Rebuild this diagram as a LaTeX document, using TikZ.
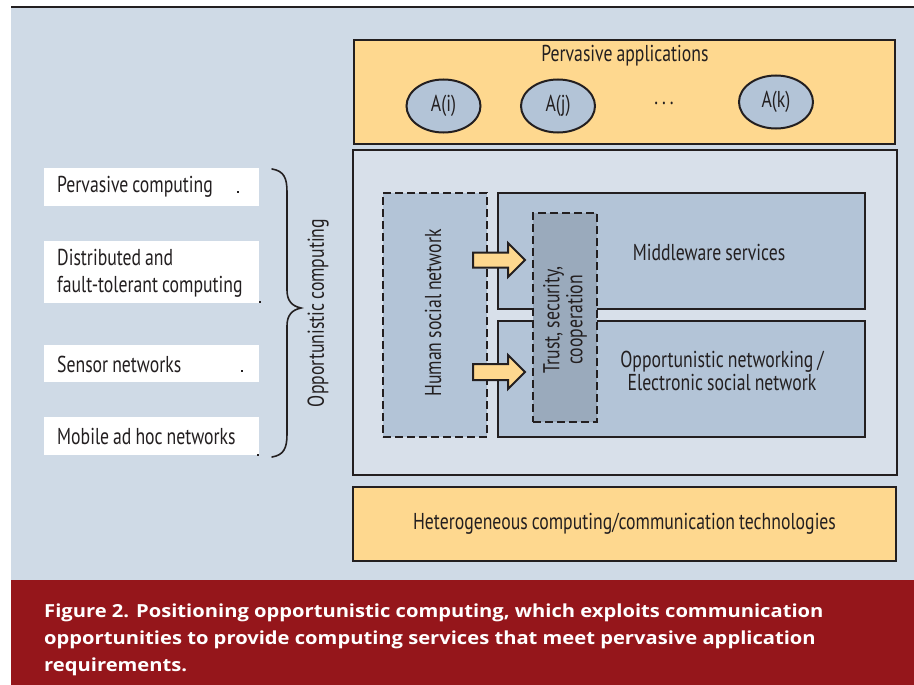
\documentclass[tikz,border=0pt]{standalone}
\usepackage{fontspec}
\setmainfont{PT Sans}[FakeStretch=0.77, WordSpace=0.85]
\newfontfamily\capfont{Open Sans}[FakeStretch=1.12]
\usetikzlibrary{shapes.geometric,calc}
\definecolor{bgc}{HTML}{CFDAE6}
\definecolor{midc}{HTML}{D8E0EA}
\definecolor{innc}{HTML}{B3C4D7}
\definecolor{trc}{HTML}{9AAABC}
\definecolor{orc}{HTML}{FED88F}
\definecolor{redc}{HTML}{95161B}
\definecolor{edgec}{HTML}{231F20}
\tikzset{
  lbl/.style={font=\fontsize{23}{23}\selectfont, text=edgec, inner sep=0pt},
  solidbox/.style={draw=edgec, line width=2pt, inner sep=0pt, outer sep=0pt, align=center, font=\fontsize{23}{23}\selectfont, text=edgec},
  dashbox/.style={solidbox, dash pattern=on 8pt off 4pt},
  leftbox/.style={fill=white, inner sep=0pt, outer sep=0pt, minimum width=215pt},
  leftlbl/.style={anchor=west, inner sep=0pt, align=left, font=\fontsize{23}{27}\selectfont, text=edgec},
  caplbl/.style={anchor=base west, inner sep=0pt, text=white, font=\capfont\bfseries\fontsize{18}{27}\selectfont},
  appell/.style={ellipse, draw=edgec, line width=2pt, fill=innc, minimum width=74pt, minimum height=53pt, inner sep=0pt, font=\fontsize{23}{23}\selectfont, text=edgec},
  blockarrow/.style={draw=edgec, line width=2pt, fill=orc, line join=miter},
  artdot/.style={fill=edgec, minimum size=2pt, inner sep=0pt},
}
\begin{document}
\begin{tikzpicture}[x=1pt,y=-1pt]
\useasboundingbox (0,0) rectangle (914,685);
\fill[white] (0,0) rectangle (914,685);
% background
\fill[bgc] (11,8) rectangle (914,580);
\draw[edgec, line width=2.5pt] (11,7) -- (914,7);
% caption band
\fill[redc] (11,580) rectangle (914,685);
\node[caplbl] (cap1) at (44,617) {Figure 2. Positioning opportunistic computing, which exploits communication};
\node[caplbl] (cap2) at (44,644) {opportunities to provide computing services that meet pervasive application};
\node[caplbl] (cap3) at (44,671) {requirements.};

% top applications box
\node[solidbox, fill=orc, minimum width=541pt, minimum height=104pt] (apps) at (624.5,92) {};
\node[lbl] (appstitle) at (625,56) {Pervasive applications};
\node[appell] (ai) at (443.5,106) {A(i)};
\node[appell] (aj) at (558,106) {A(j)};
\node[lbl, anchor=base] (dots) at (664,104) {.\hspace{4pt}.\hspace{4pt}.};
\node[appell] (ak) at (776,102) {A(k)};

% middle box
\node[solidbox, fill=midc, minimum width=544pt, minimum height=325pt] (mid) at (625,312.5) {};
\node[solidbox, fill=innc, minimum width=367pt, minimum height=116pt] (mw) at (681.5,251) {};
\node[lbl] (mwtext) at (709,252) {Middleware services};
\node[solidbox, fill=innc, minimum width=367pt, minimum height=116pt] (opp) at (681.5,379) {};
\node[lbl, align=center] (opptext) at (722,371) {Opportunistic networking /\\Electronic social network};
\node[dashbox, fill=trc, minimum width=64pt, minimum height=209pt] (trust) at (565,317.5) {};
\node[lbl, rotate=90, align=center] (trusttext) at (565,320) {Trust, security,\\cooperation};
\node[dashbox, fill=innc, minimum width=104pt, minimum height=244pt] (hsn) at (435,315) {};
\node[lbl, rotate=90] (hsntext) at (433,313) {Human social network};

% block arrows
\coordinate (a1) at (473,260);
\coordinate (a2) at (473,372);
\draw[blockarrow] ($(a1)+(0,-7.5)$) -- ++(35,0) -- ++(0,-9.5) -- (525,260) -- (508,277) -- ++(0,-9.5) -- ($(a1)+(0,7.5)$) -- cycle;
\draw[blockarrow] ($(a2)+(0,-8)$) -- ++(35,0) -- ++(0,-9) -- (525,372) -- (508,389) -- ++(0,-9) -- ($(a2)+(0,8)$) -- cycle;

% bottom box
\node[solidbox, fill=orc, minimum width=543pt, minimum height=74pt] (het) at (624.5,524) {Heterogeneous computing/communication technologies};

% left boxes
\node[leftbox, minimum height=38pt] (pc) at (151.5,187) {};
\node[leftlbl] (pct) at (57,187) {Pervasive computing};
\node[leftbox, minimum height=62pt] (dc) at (151.5,272) {};
\node[leftlbl] (dct) at (57,273) {Distributed and\\fault-tolerant computing};
\node[leftbox, minimum height=37pt] (sn) at (151.5,363.5) {};
\node[leftlbl] (snt) at (57,364) {Sensor networks};
\node[leftbox, minimum height=38pt] (mn) at (151.5,436) {};
\node[leftlbl] (mnt) at (57,436) {Mobile ad hoc networks};
\node[artdot] (d1) at (238,192) {};
\node[artdot] (d2) at (260,302) {};
\node[artdot] (d3) at (242,371) {};
\node[artdot] (d4) at (258,455) {};

% brace
\coordinate (bt) at (272,169);
\coordinate (bb) at (272,457);
\coordinate (btip) at (301,308);
\draw[edgec, line width=1.6pt, line cap=round] (bt) .. controls (284,171) and (287,178) .. (287,192)
  -- (287,290) .. controls (287,301) and (292,306) .. (btip)
  .. controls (292,310) and (287,315) .. (287,326)
  -- (287,434) .. controls (287,448) and (284,455) .. (bb);
\node[lbl, rotate=90] (oc) at (318,313) {Opportunistic computing};
\end{tikzpicture}
\end{document}
